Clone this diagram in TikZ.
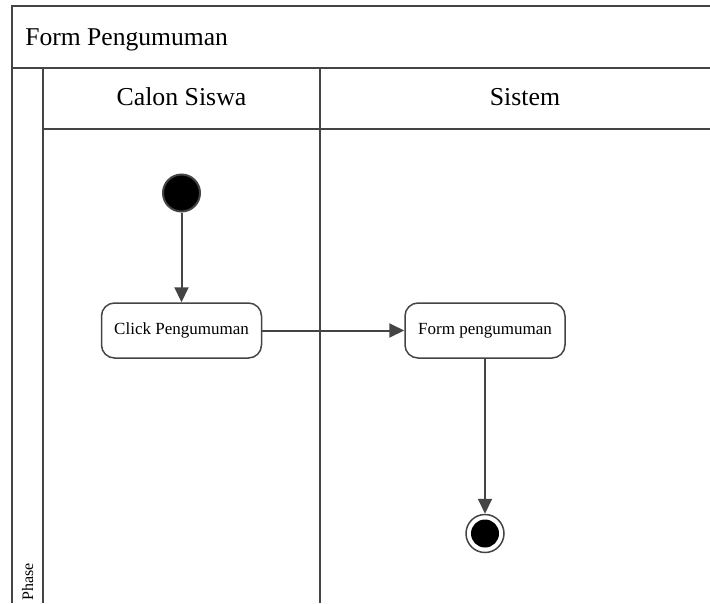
\documentclass[tikz,border=0pt]{standalone}
\usepackage{fontspec}
\setmainfont{Liberation Serif}
\usetikzlibrary{arrows.meta}
\definecolor{lane}{HTML}{444444}
\tikzset{act/.style={rectangle,draw=lane,line width=1.5pt,rounded corners=13pt,minimum width=160pt,minimum height=55pt,inner sep=0pt,font=\fontsize{17}{20}\selectfont}}
\tikzset{init/.style={circle,fill=black,draw=lane,minimum size=37pt,inner sep=0pt}}
\tikzset{final/.style={circle,draw=lane,line width=1.5pt,minimum size=38pt,inner sep=0pt,path picture={\fill[black] (path picture bounding box.center) circle (14pt);}}}
\tikzset{flow/.style={draw=lane,-{Triangle[length=15pt,width=14pt]}}}
\tikzset{hdr/.style={anchor=base,font=\fontsize{25.8}{30}\selectfont}}

\begin{document}
\begin{tikzpicture}[x=1pt,y=-1pt,line width=2pt]
      \useasboundingbox (0,0) rectangle (710,603);
      % swimlane frame
      \draw[lane] (710,6) -- (12,6) -- (12,603);
      \draw[lane] (12,68) -- (710,68);
      \draw[lane] (43,129) -- (710,129);
      \foreach \x in {43,320}
        \draw[lane] (\x,68) -- (\x,603);
      \node[anchor=base west,font=\fontsize{25.6}{30}\selectfont] (title) at (21,45.5) {Form Pengumuman};
      \node[hdr] (siswa) at (181.5,105.7) {Calon Siswa};
      \node[hdr] (sistem) at (525,105.7) {Sistem};
      \node[rotate=90,anchor=base west,font=\fontsize{16}{18}\selectfont] (phase) at (33,605) {Phase};
      % activity
      \node[init] (start) at (181.5,193) {};
      \node[act] (click) at (181.5,330.5) {Click Pengumuman};
      \node[act] (form) at (485,330.5) {Form pengumuman};
      \node[final] (end) at (485,533.5) {};
      \foreach \a/\b in {start/click,click/form,form/end}
        \draw[flow] (\a) -- (\b);
    \end{tikzpicture}
\end{document}
